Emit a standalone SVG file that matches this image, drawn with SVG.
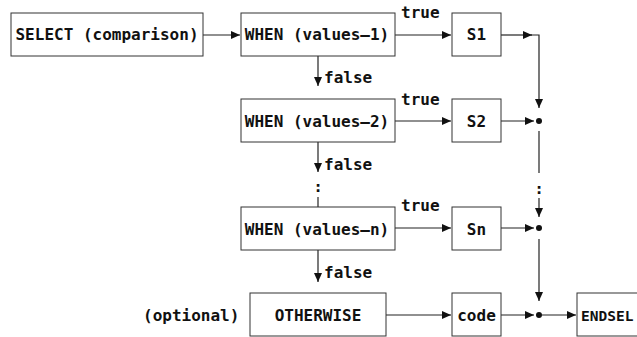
<svg xmlns="http://www.w3.org/2000/svg" width="637" height="337" viewBox="0 0 637 337">
<style>
.box{fill:#fff;stroke:#333;stroke-width:1}
.ln{fill:none;stroke:#222;stroke-width:1.2}
.t{font-family:"DejaVu Sans Mono","Liberation Mono",monospace;font-weight:bold;font-size:16px;fill:#111}
.c{text-anchor:middle}
.dot{fill:#111}
</style>
<defs>
<marker id="ah" markerUnits="userSpaceOnUse" markerWidth="10" markerHeight="10" refX="9" refY="4" orient="auto">
<path d="M0,0 L9,4 L0,8 Z" fill="#111"/>
</marker>
</defs>
<rect width="637" height="337" fill="#fff"/>
<g id="connectors">
<path class="ln" d="M203,35 H240" marker-end="url(#ah)"/>
<path class="ln" d="M395,35 H451" marker-end="url(#ah)"/>
<path class="ln" d="M501,35 H532" marker-end="url(#ah)"/>
<path class="ln" d="M531,35 H539 V108" marker-end="url(#ah)"/>
<path class="ln" d="M318,56 V86" marker-end="url(#ah)"/>
<path class="ln" d="M395,121 H451" marker-end="url(#ah)"/>
<path class="ln" d="M501,121 H534" marker-end="url(#ah)"/>
<circle class="dot" cx="539" cy="121" r="3"/>
<path class="ln" d="M318,142 V172" marker-end="url(#ah)"/>
<text class="t c" x="318" y="192">:</text>
<path class="ln" d="M318,197 V207"/>
<path class="ln" d="M539,131 V173"/>
<text class="t c" x="539" y="194">:</text>
<path class="ln" d="M539,198 V217" marker-end="url(#ah)"/>
<path class="ln" d="M395,228 H451" marker-end="url(#ah)"/>
<path class="ln" d="M501,228 H534" marker-end="url(#ah)"/>
<circle class="dot" cx="539" cy="228" r="3"/>
<path class="ln" d="M318,250 V282" marker-end="url(#ah)"/>
<path class="ln" d="M539,239 V301" marker-end="url(#ah)"/>
<path class="ln" d="M386,315 H451" marker-end="url(#ah)"/>
<path class="ln" d="M501,315 H534" marker-end="url(#ah)"/>
<circle class="dot" cx="539" cy="315" r="3"/>
<path class="ln" d="M541,315 H576" marker-end="url(#ah)"/>
<text class="t" x="401" y="18">true</text>
<text class="t" x="401" y="105">true</text>
<text class="t" x="401" y="211">true</text>
<text class="t" x="324" y="83">false</text>
<text class="t" x="324" y="170">false</text>
<text class="t" x="324" y="278">false</text>
</g>
<g id="select"><rect class="box" x="11" y="13" width="192" height="43"/><text class="t c" x="107" y="40">SELECT (comparison)</text></g>
<g id="when1"><rect class="box" x="241" y="13" width="154" height="43"/><text class="t c" x="317" y="40">WHEN (values—1)</text></g>
<g id="s1"><rect class="box" x="452" y="13" width="49" height="43"/><text class="t c" x="476.5" y="40">S1</text></g>
<g id="when2"><rect class="box" x="241" y="99" width="154" height="43"/><text class="t c" x="317" y="127">WHEN (values—2)</text></g>
<g id="s2"><rect class="box" x="452" y="99" width="49" height="43"/><text class="t c" x="476.5" y="127">S2</text></g>
<g id="whenn"><rect class="box" x="241" y="207" width="154" height="43"/><text class="t c" x="317" y="235">WHEN (values—n)</text></g>
<g id="sn"><rect class="box" x="452" y="207" width="49" height="43"/><text class="t c" x="476.5" y="235">Sn</text></g>
<g id="optional"><text class="t" x="143" y="321">(optional)</text></g>
<g id="otherwise"><rect class="box" x="250" y="293" width="136" height="43"/><text class="t c" x="318" y="321">OTHERWISE</text></g>
<g id="code"><rect class="box" x="452" y="293" width="49" height="43"/><text class="t c" x="476.5" y="321">code</text></g>
<g id="endsel"><rect class="box" x="577" y="293" width="90" height="43"/><text class="t" x="581" y="321" style="font-size:14.5px">ENDSEL</text></g>
</svg>
